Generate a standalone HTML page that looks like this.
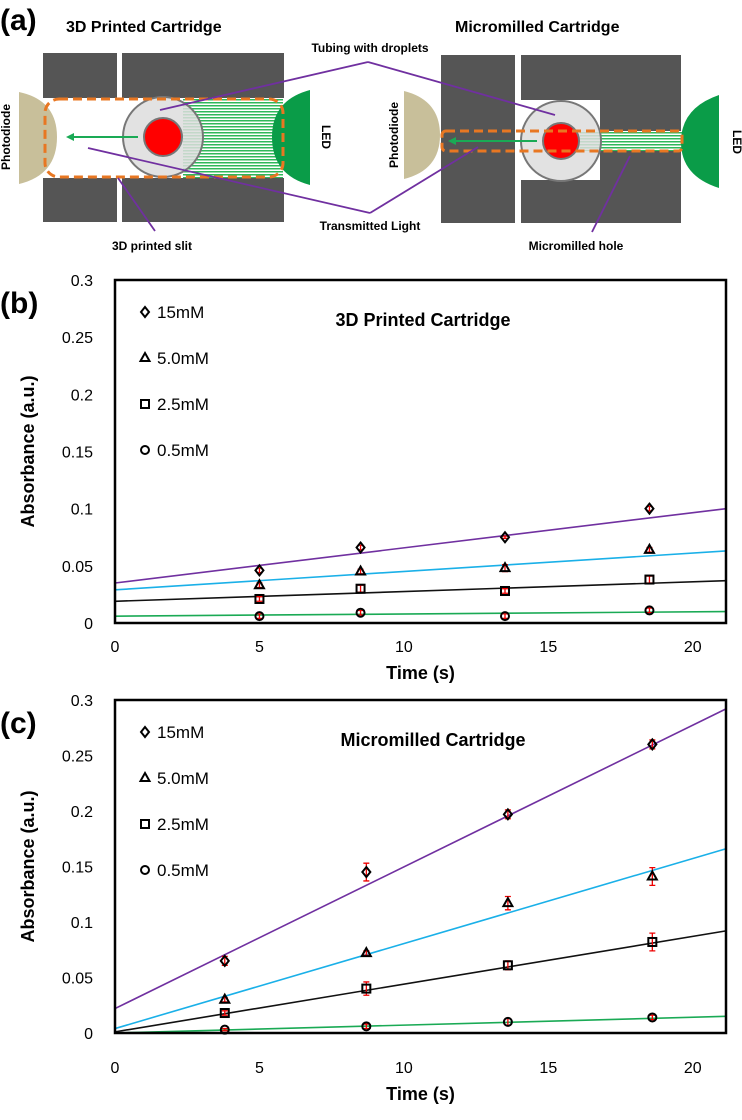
<!DOCTYPE html>
<html><head><meta charset="utf-8"><style>
body{margin:0;background:#fff;width:742px;height:1115px;overflow:hidden;font-family:"Liberation Sans",sans-serif}
svg text{font-family:"Liberation Sans",sans-serif}
</style></head><body>
<svg width="742" height="1115" viewBox="0 0 742 1115" xmlns="http://www.w3.org/2000/svg">
<defs>
<pattern id="hatch" width="4" height="3" patternUnits="userSpaceOnUse"><rect width="4" height="3" fill="#fff"/><rect width="4" height="1.5" fill="#2fb85a"/></pattern>
</defs>
<g>
<text x="0" y="30" font-size="30" font-weight="bold">(a)</text>
<text x="66" y="32" font-size="16" font-weight="bold">3D Printed Cartridge</text>
<text x="455" y="32" font-size="16" font-weight="bold">Micromilled Cartridge</text>
<g>
<rect x="43" y="53" width="74" height="45" fill="#555"/><rect x="122" y="53" width="162" height="45" fill="#555"/>
<rect x="43" y="178" width="74" height="44" fill="#555"/><rect x="122" y="178" width="162" height="44" fill="#555"/>
<path d="M19,92 Q57,100 57,137 Q57,175 19,184 Z" fill="#c8bf9a"/>
<rect x="183" y="98" width="100" height="80" fill="url(#hatch)"/>
<circle cx="163" cy="137" r="40" fill="#ddd" fill-opacity="0.85" stroke="#777" stroke-width="2"/>
<circle cx="163" cy="137" r="19" fill="#f00" stroke="#777" stroke-width="2"/>
<path d="M310,90 Q272,100 272,137 Q272,175 310,185 Z" fill="#0a9c48"/>
<rect x="45" y="99" width="238" height="78" rx="14" fill="none" stroke="#e87722" stroke-width="3" stroke-dasharray="9,5"/>
<line x1="138" y1="137" x2="70" y2="137" stroke="#1aaa55" stroke-width="2"/><path d="M66,137 l8,-4 v8z" fill="#1aaa55"/>
<text x="10" y="137" font-size="12" font-weight="bold" transform="rotate(-90 10 137)" text-anchor="middle">Photodiode</text>
<text x="322" y="137" font-size="12" font-weight="bold" transform="rotate(90 322 137)" text-anchor="middle">LED</text>
</g>
<g>
<rect x="441" y="55" width="74" height="168" fill="#555"/>
<path d="M521,55 h160 v168 h-160 v-43 h79 v-80 h-79 z" fill="#555"/>
<path d="M404,91 Q440,100 440,135 Q440,170 404,179 Z" fill="#c8bf9a"/>
<rect x="580" y="131" width="102" height="20" fill="url(#hatch)"/>
<circle cx="561" cy="141" r="40" fill="#ddd" fill-opacity="0.85" stroke="#777" stroke-width="2"/>
<circle cx="561" cy="141" r="18" fill="#f00" stroke="#777" stroke-width="2"/>
<path d="M719,95 Q681,108 681,142 Q681,176 719,188 Z" fill="#0a9c48"/>
<rect x="442" y="131" width="240" height="20" rx="4" fill="none" stroke="#e87722" stroke-width="3" stroke-dasharray="9,5"/>
<line x1="537" y1="141" x2="452" y2="141" stroke="#1aaa55" stroke-width="2"/><path d="M448,141 l8,-4 v8z" fill="#1aaa55"/>
<text x="398" y="135" font-size="12" font-weight="bold" transform="rotate(-90 398 135)" text-anchor="middle">Photodiode</text>
<text x="733" y="142" font-size="12" font-weight="bold" transform="rotate(90 733 142)" text-anchor="middle">LED</text>
</g>
<g stroke="#7030a0" stroke-width="1.8" fill="none">
<path d="M368,62 L160,110"/><path d="M368,62 L555,115"/>
<path d="M370,213 L88,148"/><path d="M370,213 L478,147"/>
<path d="M155,231 L118,178"/><path d="M592,232 L630,156"/>
</g>
<text x="370" y="52" font-size="12" font-weight="bold" text-anchor="middle">Tubing with droplets</text>
<text x="370" y="230" font-size="12" font-weight="bold" text-anchor="middle">Transmitted Light</text>
<text x="152" y="250" font-size="12" font-weight="bold" text-anchor="middle">3D printed slit</text>
<text x="576" y="250" font-size="12" font-weight="bold" text-anchor="middle">Micromilled hole</text>
</g>
<g id="charts"></g>
</svg>
<script>
const xTicks=[0,5,10,15,20];
const yTicks=[0,0.05,0.1,0.15,0.2,0.25,0.3];
const yTickLabels=["0","0.05","0.1","0.15","0.2","0.25","0.3"];
const seriesNames=["15mM","5.0mM","2.5mM","0.5mM"];
const bX=[5,8.5,13.5,18.5];
const b15=[0.046,0.066,0.075,0.1];
const b5=[0.033,0.045,0.048,0.064];
const b25=[0.021,0.03,0.028,0.038];
const b05=[0.006,0.009,0.006,0.011];
const bErr15=[0.002,0.002,0.001,0.002];
const bErr5=[0.002,0.002,0.003,0.002];
const bErr25=[0.002,0.003,0.002,0.003];
const bErr05=[0.002,0.002,0.002,0.002];
const bFitStart=[0.035,0.029,0.019,0.006];
const bFitEnd=[0.1,0.063,0.037,0.010];
const cX=[3.8,8.7,13.6,18.6];
const c15=[0.065,0.145,0.197,0.26];
const c5=[0.03,0.072,0.117,0.141];
const c25=[0.018,0.04,0.061,0.082];
const c05=[0.003,0.006,0.01,0.014];
const cErr15=[0.004,0.008,0.004,0.004];
const cErr5=[0.002,0.002,0.006,0.008];
const cErr25=[0.002,0.006,0.004,0.008];
const cErr05=[0.001,0.002,0.003,0.002];
const cFitStart=[0.022,0.004,0.001,0];
const cFitEnd=[0.292,0.166,0.092,0.015];
const NS="http://www.w3.org/2000/svg";
const root=document.getElementById('charts');
const lineColors=["#7030a0","#1ab0e8","#111","#1aaa55"];
const shapes=["diamond","triangle","square","circle"];
function mk(t,a,p){const e=document.createElementNS(NS,t);for(const k in a)e.setAttribute(k,a[k]);(p||root).appendChild(e);return e;}
function chart(cfg){
 const L=115,R=726,T=cfg.top,B=cfg.bottom,xMax=21.15;
 const g=mk('g',{});
 
 
 const xs=v=>L+v/xMax*(R-L), ys=v=>B-v/0.3*(B-T);
 const lbl=mk('text',{x:0,y:T+33,'font-size':30,'font-weight':'bold'},g);lbl.textContent=cfg.label;
 
 
 yTicks.forEach((v,i)=>{const t=mk('text',{x:L-22,y:ys(v)+6,'font-size':16,'text-anchor':'end'},g);t.textContent=yTickLabels[i];
  
  });
 xTicks.forEach(v=>{const t=mk('text',{x:xs(v),y:B+cfg.tickOff,'font-size':16,'text-anchor':'middle'},g);t.textContent=v;
  
  });
 const xt=mk('text',{x:(L+R)/2,y:B+cfg.tickOff+27,'font-size':18,'font-weight':'bold','text-anchor':'middle'},g);xt.textContent='Time (s)';
 
 
 const yc=(T+B)/2;
 const yt=mk('text',{x:34,y:yc,'font-size':18,'font-weight':'bold','text-anchor':'middle',transform:`rotate(-90 34 ${yc})`},g);yt.textContent='Absorbance (a.u.)';
 
 
 const ti=mk('text',{x:cfg.titleX,y:T+46,'font-size':18,'font-weight':'bold','text-anchor':'middle'},g);ti.textContent=cfg.title;
 
 
 cfg.fs.forEach((s,i)=>{const l=mk('line',{x1:xs(0),y1:ys(s),x2:xs(xMax),y2:ys(cfg.fe[i]),stroke:lineColors[i],'stroke-width':1.6},g);
  
  });
 cfg.series.forEach((ser,i)=>{ser.forEach((v,j)=>{
   const x=xs(cfg.x[j]),y=ys(v);
   const e=cfg.err[i][j];const eb=mk('path',{d:`M${x},${ys(v+e)}V${ys(v-e)}M${x-3},${ys(v+e)}h6M${x-3},${ys(v-e)}h6`,stroke:'#e00','stroke-width':1.3,fill:'none'},g);
   
   
   const m=marker(shapes[i],x,y,g);
   
   
 });});
 seriesNames.forEach((n,i)=>{const y=T+38+i*46;
  const m=marker(shapes[i],L+30,y-6,g);
  
  
  const t=mk('text',{x:L+42,y:y,'font-size':17},g);t.textContent=n;
  
  });
 const box=mk('rect',{x:L,y:T,width:R-L,height:B-T,fill:'none',stroke:'#000','stroke-width':2.5},g);
 
 
}
function marker(s,x,y,g){const a={fill:'none',stroke:'#000','stroke-width':2};
 if(s==='diamond')return mk('path',Object.assign({d:`M${x},${y-5}l4,5l-4,5l-4,-5z`},a),g);
 if(s==='triangle')return mk('path',Object.assign({d:`M${x},${y-5}l4.5,8h-9z`},a),g);
 if(s==='square')return mk('rect',Object.assign({x:x-4,y:y-4,width:8,height:8},a),g);
 return mk('circle',Object.assign({cx:x,cy:y,r:4},a),g);}
chart({name:'chart-b',label:'(b)',title:'3D Printed Cartridge',titleX:423,top:280,bottom:623,tickOff:29,x:bX,series:[b15,b5,b25,b05],err:[bErr15,bErr5,bErr25,bErr05],fs:bFitStart,fe:bFitEnd});
chart({name:'chart-c',label:'(c)',title:'Micromilled Cartridge',titleX:433,top:700,bottom:1033,tickOff:40,x:cX,series:[c15,c5,c25,c05],err:[cErr15,cErr5,cErr25,cErr05],fs:cFitStart,fe:cFitEnd});
</script>
</body></html>
